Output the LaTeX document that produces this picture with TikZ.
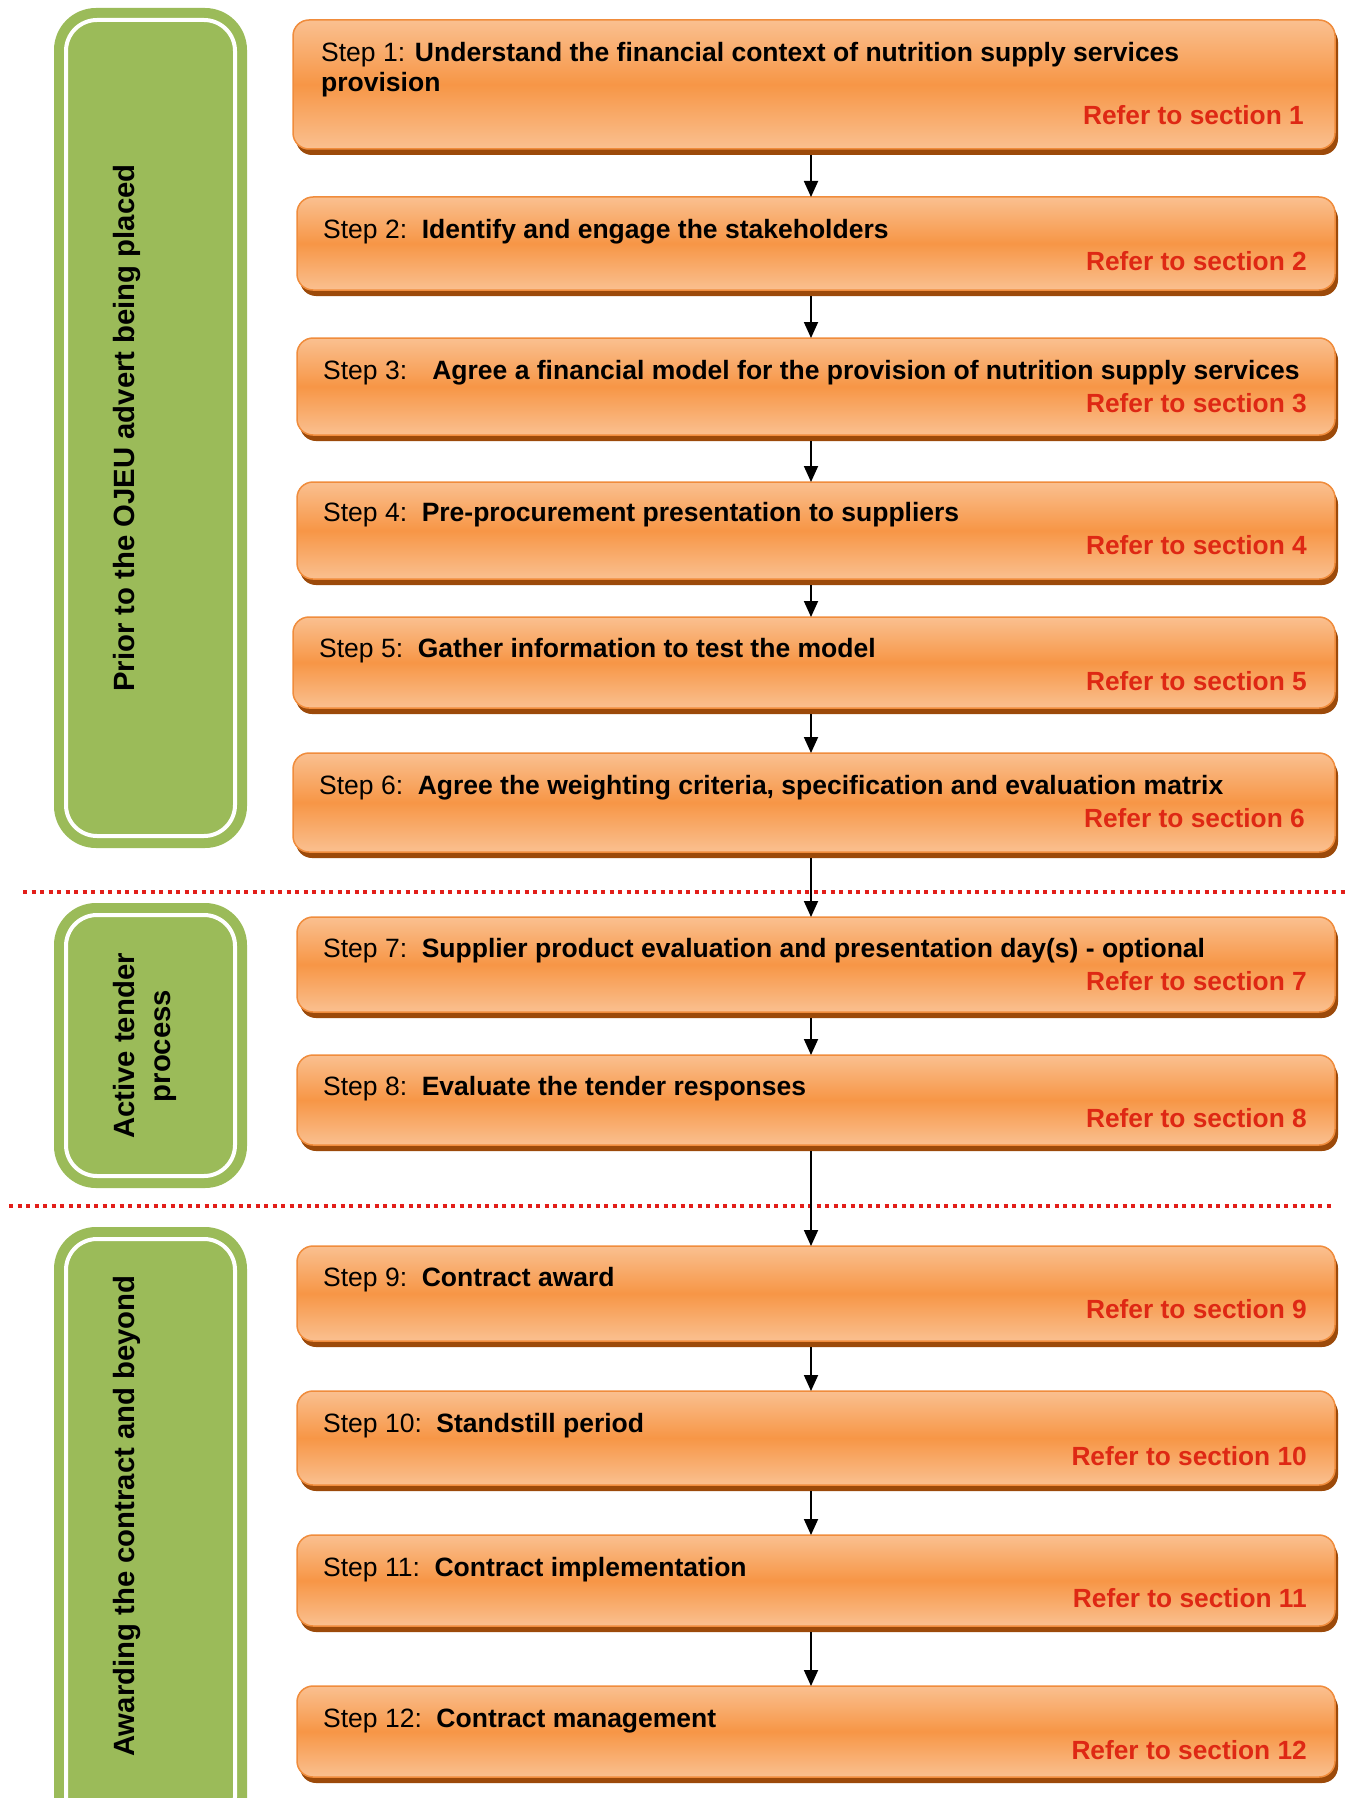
\documentclass[tikz,border=0pt]{standalone}
\usepackage{fontspec}
\setmainfont{Liberation Sans}
\usetikzlibrary{shadows,arrows.meta}
\definecolor{gpanel}{RGB}{155,187,89}
\definecolor{olight}{RGB}{250,192,144}
\definecolor{omid}{RGB}{247,150,70}
\definecolor{oedge}{RGB}{240,140,60}
\definecolor{oshadow}{RGB}{156,74,10}
\definecolor{refred}{RGB}{222,40,20}
\definecolor{dotred}{RGB}{226,30,25}
\tikzset{
  stepbox/.style={draw=oedge, line width=1.5pt, rounded corners=16pt,
    top color=olight, bottom color=olight, middle color=omid,
    drop shadow={shadow xshift=3pt, shadow yshift=-6pt, fill=oshadow, opacity=1},
    anchor=north west, inner sep=0pt, outer sep=0pt},
  steptext/.style={anchor=west, inner sep=0pt, font=\fontsize{26.5}{30}\selectfont, text=black},
  reftext/.style={anchor=east, inner sep=0pt, font=\fontsize{26.3}{30}\selectfont\bfseries, text=refred},
  panel/.style={fill=gpanel, rounded corners=42pt},
  panelline/.style={draw=white, line width=4pt, rounded corners=31pt},
  paneltext/.style={rotate=90, font=\fontsize{29.3}{36}\selectfont\bfseries, align=center, inner sep=0pt},
  flow/.style={-{Triangle[length=16pt,width=14pt]}, line width=1.8pt, black},
  sep/.style={dotred, line width=4pt, dash pattern=on 4pt off 4.5pt},
}
\begin{document}
\begin{tikzpicture}[x=1pt,y=-1pt]
\clip (0,0) rectangle (1345,1798);
\fill[white] (0,0) rectangle (1345,1798);

% green panels
\fill[panel] (54,8) rectangle (247,848);
\draw[panelline] (66,20) rectangle (235,836);
\node[paneltext] (p1) at (127,428) {Prior to the OJEU advert being placed};

\fill[panel] (54,903) rectangle (247,1188);
\draw[panelline] (66,915) rectangle (235,1176);
\node[paneltext] (p2) at (145,1046) {Active tender\\process};

\fill[panel] (54,1227) rectangle (247,1840);
\draw[panelline] (66,1239) rectangle (235,1828);
\node[paneltext] (p3) at (127,1516) {Awarding the contract and beyond};

% separators
\coordinate (d1a) at (23,892);
\coordinate (d1b) at (1345,892);
\draw[sep] (d1a) -- (d1b);
\coordinate (d2a) at (9,1206);
\coordinate (d2b) at (1334,1206);
\draw[sep] (d2a) -- (d2b);

% step boxes
\node[stepbox, minimum width=1042pt, minimum height=129pt] (b1) at (293,20) {};
\node[stepbox, minimum width=1038pt, minimum height=93pt] (b2) at (297,197) {};
\node[stepbox, minimum width=1038pt, minimum height=97pt] (b3) at (297,338) {};
\node[stepbox, minimum width=1038pt, minimum height=97pt] (b4) at (297,482) {};
\node[stepbox, minimum width=1042pt, minimum height=91pt] (b5) at (293,617) {};
\node[stepbox, minimum width=1042pt, minimum height=99pt] (b6) at (293,753) {};
\node[stepbox, minimum width=1038pt, minimum height=95pt] (b7) at (297,917) {};
\node[stepbox, minimum width=1038pt, minimum height=90pt] (b8) at (297,1055) {};
\node[stepbox, minimum width=1038pt, minimum height=95pt] (b9) at (297,1246) {};
\node[stepbox, minimum width=1038pt, minimum height=94pt] (b10) at (297,1391) {};
\node[stepbox, minimum width=1038pt, minimum height=91pt] (b11) at (297,1535) {};
\node[stepbox, minimum width=1038pt, minimum height=91pt] (b12) at (297,1686) {};

% texts
\node[steptext, align=left, anchor=north west] (t1) at (321,42) {Step 1: \textbf{Understand the financial context of nutrition supply services}\\\textbf{provision}};
\node[reftext] (r1) at (1304,115) {Refer to section 1};

\node[steptext] (t2) at (323,232) {Step 2:\hspace{0.55em}\textbf{Identify and engage the stakeholders}};
\node[reftext] (r2) at (1307,261) {Refer to section 2};

\node[steptext] (t3) at (323,373) {Step 3:\hspace{0.95em}\textbf{Agree a financial model for the provision of nutrition supply services}};
\node[reftext] (r3) at (1307,403) {Refer to section 3};

\node[steptext] (t4) at (323,515) {Step 4:\hspace{0.55em}\textbf{Pre-procurement presentation to suppliers}};
\node[reftext] (r4) at (1307,545) {Refer to section 4};

\node[steptext] (t5) at (319,651) {Step 5:\hspace{0.55em}\textbf{Gather information to test the model}};
\node[reftext] (r5) at (1307,681) {Refer to section 5};

\node[steptext] (t6) at (319,788) {Step 6:\hspace{0.55em}\textbf{Agree the weighting criteria, specification and evaluation matrix}};
\node[reftext] (r6) at (1305,818) {Refer to section 6};

\node[steptext] (t7) at (323,951) {Step 7:\hspace{0.55em}\textbf{Supplier product evaluation and presentation day(s) - optional}};
\node[reftext] (r7) at (1307,981) {Refer to section 7};

\node[steptext] (t8) at (323,1089) {Step 8:\hspace{0.55em}\textbf{Evaluate the tender responses}};
\node[reftext] (r8) at (1307,1118) {Refer to section 8};

\node[steptext] (t9) at (323,1280) {Step 9:\hspace{0.55em}\textbf{Contract award}};
\node[reftext] (r9) at (1307,1309) {Refer to section 9};

\node[steptext] (t10) at (323,1426) {Step 10:\hspace{0.55em}\textbf{Standstill period}};
\node[reftext] (r10) at (1307,1456) {Refer to section 10};

\node[steptext] (t11) at (323,1570) {Step 11:\hspace{0.55em}\textbf{Contract implementation}};
\node[reftext] (r11) at (1307,1598) {Refer to section 11};

\node[steptext] (t12) at (323,1721) {Step 12:\hspace{0.55em}\textbf{Contract management}};
\node[reftext] (r12) at (1307,1750) {Refer to section 12};

% connectors
\foreach \a/\b in {b1/b2,b2/b3,b3/b4,b4/b5,b5/b6,b6/b7,b7/b8,b8/b9,b9/b10,b10/b11,b11/b12}{
  \draw[flow] ([yshift=-6pt]\a.south -| 811,0) -- (\b.north -| 811,0);
}
\end{tikzpicture}
\end{document}
